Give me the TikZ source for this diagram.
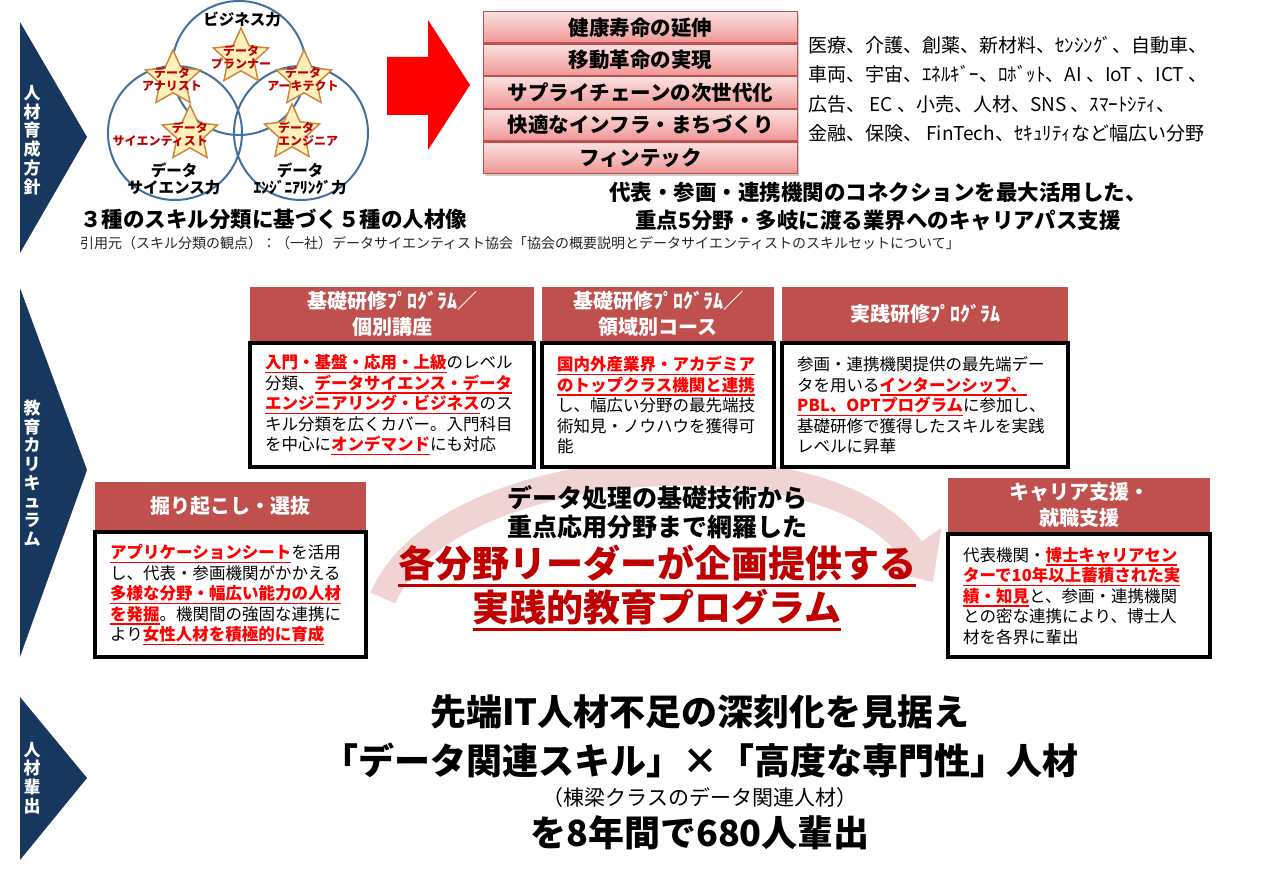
\documentclass[tikz,border=0pt]{standalone}
\usepackage{fontspec}
\setmainfont{Noto Sans CJK JP}
\usetikzlibrary{positioning,shapes.geometric,shadows,arrows.meta}
\definecolor{navy}{RGB}{23,55,94}
\definecolor{hdred}{RGB}{192,80,77}
\definecolor{hlred}{RGB}{255,0,0}
\definecolor{dkred}{RGB}{192,0,0}
\definecolor{arrred}{RGB}{255,0,0}
\definecolor{arcpink}{RGB}{240,212,212}
\definecolor{venn}{RGB}{65,113,156}
\definecolor{stfill}{RGB}{255,240,190}
\definecolor{stdraw}{RGB}{204,136,58}
\definecolor{stkA}{RGB}{251,225,225}
\definecolor{stkB}{RGB}{240,150,150}
\newcommand\fsz[2]{\fontsize{#1}{#2}\selectfont}
\newsavebox\ulbox
\newcommand\hl[1]{\leavevmode{\color{hlred}\bfseries\sbox\ulbox{#1}\rlap{\raisebox{-4.5pt}{\rule{\wd\ulbox}{1.5pt}}}\usebox\ulbox}}
\newcommand\bigul[1]{\leavevmode\sbox\ulbox{#1}\rlap{\raisebox{-10pt}{\rule{\wd\ulbox}{3pt}}}\usebox\ulbox}
\begin{document}
\begin{tikzpicture}[x=1pt,y=-1pt,
 banner/.style={fill=navy},
 bantext/.style={text=white,font=\fsz{17}{18.7}\bfseries,align=center,inner sep=0},
 vcirc/.style={draw=venn,line width=2pt},
 starbox/.style={star,star points=5,star point ratio=2.1,minimum size=58pt,inner sep=0,fill=stfill,draw=stdraw,line width=1.5pt},
 starlbl/.style={text=dkred,font=\fsz{12}{13}\bfseries,inner sep=0},
 powlbl/.style={font=\fsz{15.5}{17}\bfseries,inner sep=0,align=center},
 stackbox/.style={draw=hdred,line width=1.2pt,top color=stkA,bottom color=stkB,minimum width=314pt,minimum height=31.4pt,inner sep=0,font=\fsz{20.5}{22}\bfseries,drop shadow={shadow xshift=1.5pt,shadow yshift=-3pt,opacity=.4}},
 hdbox/.style={fill=hdred,text=white,font=\fsz{20}{26}\bfseries,align=center,inner sep=0,anchor=north west},
 bodybox/.style={draw=black,line width=3.5pt,fill=white,align=left,inner xsep=15pt,font=\fsz{16.5}{20.5}}]
 \useasboundingbox (0,0) rectangle (1263,885);
 \fill[white] (0,0) rectangle (1263,885);

 \fill[banner] (20,22) -- (87,137) -- (20,253) -- cycle;
 \node[bantext] (ban1) at (32,140) {人\\材\\育\\成\\方\\針};
 \fill[banner] (20,288) -- (87,470) -- (20,657) -- cycle;
 \node[bantext] (ban2) at (32,473) {教\\育\\カ\\リ\\キ\\ュ\\ラ\\ム};
 \fill[banner] (20,697) -- (87,778) -- (20,860) -- cycle;
 \node[bantext] (ban3) at (32,778) {人\\材\\輩\\出};

 \draw[vcirc] (239,68) circle (67);
 \draw[vcirc] (175,133) circle (67);
 \draw[vcirc] (301,133) circle (67);
 \node[powlbl] (pBiz) at (242,20) {ビジネス力};
 \node[powlbl] (pSci) at (174,179) {データ\\サイエンス力};
 \node[powlbl] (pEng) at (300,179) {データ\\ｴﾝｼﾞﾆｱﾘﾝｸﾞ力};
 \node[starbox] (sPlan) at (241,57) {};
 \node[starbox] (sAna) at (173,79) {};
 \node[starbox] (sArc) at (304,79) {};
 \node[starbox] (sSci) at (190,134) {};
 \node[starbox] (sEng) at (292,133) {};
 \node[starlbl,align=center] (lPlan) at (241,57) {データ\\プランナー};
 \node[starlbl,align=center] (lAna) at (172,79) {データ\\アナリスト};
 \node[starlbl,align=center] (lArc) at (303,79) {データ\\アーキテクト};
 \node[starlbl,align=right,anchor=east] (lSci) at (208,134) {データ\\サイエンティスト};
 \node[starlbl,align=left,anchor=west] (lEng) at (278,134) {データ\\エンジニア};
 \node[anchor=west,font=\fsz{21.5}{24}\bfseries,inner sep=0] (skilltitle) at (80,219) {３種のスキル分類に基づく５種の人材像};
 \node[anchor=west,font=\fsz{14}{16},inner sep=0,text=black!85] (cite) at (80,243) {引用元（スキル分類の観点）：（一社）データサイエンティスト協会「協会の概要説明とデータサイエンティストのスキルセットについて」};

 \fill[arrred] (387,57) -- (428,57) -- (428,20) -- (470,85) -- (428,150) -- (428,115) -- (387,115) -- cycle;

 \node[stackbox,anchor=north west] (s1) at (483,11) {健康寿命の延伸};
 \node[stackbox,below=0pt of s1] (s2) {移動革命の実現};
 \node[stackbox,below=0pt of s2] (s3) {サプライチェーンの次世代化};
 \node[stackbox,below=0pt of s3] (s4) {快適なインフラ・まちづくり};
 \node[stackbox,below=0pt of s4] (s5) {フィンテック};
 \node[anchor=north west,align=left,font=\fsz{19}{29.5},inner sep=0] (fields) at (808,36) {医療、介護、創薬、新材料、ｾﾝｼﾝｸﾞ、自動車、\\車両、宇宙、ｴﾈﾙｷﾞｰ、ﾛﾎﾞｯﾄ、AI 、IoT 、ICT 、\\広告、 EC 、小売、人材、SNS 、ｽﾏｰﾄｼﾃｨ、\\金融、保険、 FinTech、ｾｷｭﾘﾃｨなど幅広い分野};
 \node[font=\fsz{21.5}{28}\bfseries,align=center,inner sep=0] (conn) at (878,206) {代表・参画・連携機関のコネクションを最大活用した、\\重点5分野・多岐に渡る業界へのキャリアパス支援};

 \coordinate (arcS) at (383,598);
 \coordinate (arcE) at (933,582);
 \draw[arcpink,line width=27pt,-{Triangle[length=40pt,width=72pt]}] (arcS) .. controls (445,450) and (830,430) .. (arcE);

 \node[hdbox,minimum width=284pt,minimum height=54pt] (hA) at (250,287) {基礎研修ﾌﾟﾛｸﾞﾗﾑ／\\個別講座};
 \node[bodybox,text width=254pt,minimum height=124pt,below=0pt of hA] (bA) {\hl{入門・基盤・応用・上級}のレベル\\分類、\hl{データサイエンス・データ}\\\hl{エンジニアリング・ビジネス}のス\\キル分類を広くカバー。入門科目\\を中心に\hl{オンデマンド}にも対応};
 \node[hdbox,minimum width=232pt,minimum height=54pt] (hB) at (542,287) {基礎研修ﾌﾟﾛｸﾞﾗﾑ／\\領域別コース};
 \node[bodybox,text width=202pt,minimum height=124pt,below=0pt of hB] (bB) {\hl{国内外産業界・アカデミア}\\\hl{のトップクラス機関と連携}\\し、幅広い分野の最先端技\\術知見・ノウハウを獲得可\\能};
 \node[hdbox,minimum width=286pt,minimum height=54pt] (hC) at (782,287) {実践研修ﾌﾟﾛｸﾞﾗﾑ};
 \node[bodybox,text width=256pt,minimum height=124pt,below=0pt of hC] (bC) {参画・連携機関提供の最先端デー\\タを用いる\hl{インターンシップ、}\\\hl{PBL、OPTプログラム}に参加し、\\基礎研修で獲得したスキルを実践\\レベルに昇華};
 \node[hdbox,minimum width=271pt,minimum height=48pt] (hD) at (95,482) {掘り起こし・選抜};
 \node[bodybox,text width=241pt,minimum height=125pt,below=0pt of hD] (bD) {\hl{アプリケーションシート}を活用\\し、代表・参画機関がかかえる\\\hl{多様な分野・幅広い能力の人材}\\\hl{を発掘}。機関間の強固な連携に\\より\hl{女性人材を積極的に育成}};
 \node[hdbox,minimum width=262pt,minimum height=54pt] (hE) at (948,478) {キャリア支援・\\就職支援};
 \node[bodybox,text width=232pt,minimum height=123pt,below=0pt of hE] (bE) {代表機関・\hl{博士キャリアセン}\\\hl{ターで10年以上蓄積された実}\\\hl{績・知見}と、参画・連携機関\\との密な連携により、博士人\\材を各界に輩出};

 \node[font=\fsz{25}{28}\bfseries,inner sep=0] (mid1) at (657,498) {データ処理の基礎技術から};
 \node[font=\fsz{25}{28}\bfseries,inner sep=0] (mid2) at (657,527) {重点応用分野まで網羅した};
 \node[text=dkred,font=\fsz{37}{40}\bfseries,inner sep=0,anchor=base] (mid3) at (657,577) {\bigul{各分野リーダーが企画提供する}};
 \node[text=dkred,font=\fsz{37}{40}\bfseries,inner sep=0,anchor=base] (mid4) at (657,621) {\bigul{実践的教育プログラム}};

 \node[font=\fsz{36}{40}\bfseries,inner sep=0] (out1) at (700,712) {先端IT人材不足の深刻化を見据え};
 \node[font=\fsz{36}{40}\bfseries,inner sep=0] (out2) at (700,760) {「データ関連スキル」×「高度な専門性」人材};
 \node[font=\fsz{21}{24},inner sep=0] (out3) at (700,798) {（棟梁クラスのデータ関連人材）};
 \node[font=\fsz{36}{40}\bfseries,inner sep=0] (out4) at (700,833) {を8年間で680人輩出};
\end{tikzpicture}
\end{document}
